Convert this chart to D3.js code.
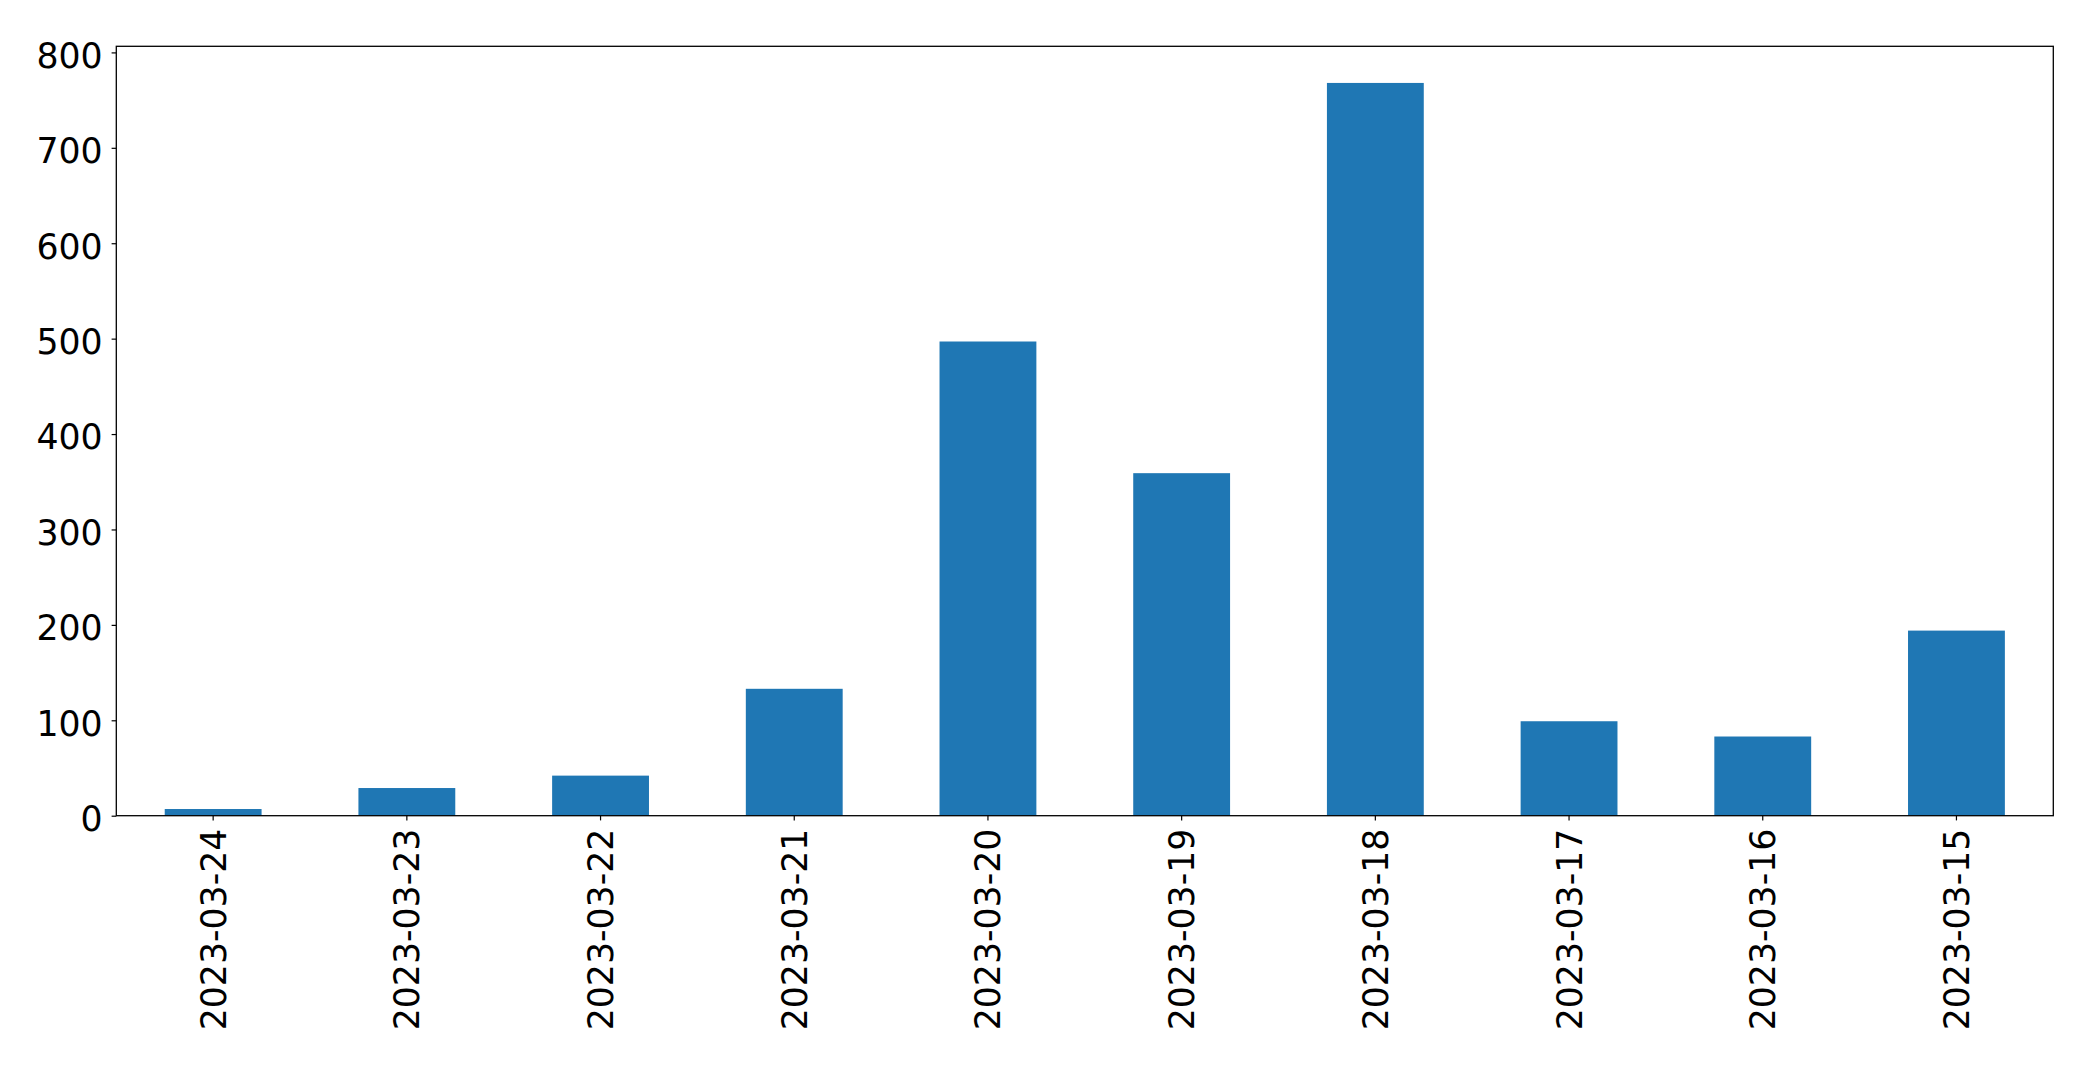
<!DOCTYPE html>
<html>
<head>
<meta charset="utf-8">
<script src="https://cdn.jsdelivr.net/npm/d3@7"></script>
<style>
  html, body { margin: 0; padding: 0; background: #fff; }
  svg { display: block; }
  text { font-family: "DejaVu Sans", sans-serif; fill: #000; }
</style>
</head>
<body>
<svg id="chart" width="2093" height="1068"></svg>
<script>
const categories = ["2023-03-24","2023-03-23","2023-03-22","2023-03-21","2023-03-20","2023-03-19","2023-03-18","2023-03-17","2023-03-16","2023-03-15"];
const values = [7, 29, 42, 133, 497, 359, 768, 99, 83, 194];
const yTicks = [0, 100, 200, 300, 400, 500, 600, 700, 800];

const W = 2093, H = 1068;
const m = { left: 116.3, right: W - 2053.3, top: 46.3, bottom: H - 815.7 };
const svg = d3.select("#chart");
const g = svg.append("g");

const x = d3.scaleBand().domain(categories)
  .range([m.left, W - m.right]).paddingInner(0.5).paddingOuter(0.25);
const y = d3.scaleLinear().domain([0, d3.max(values) * 1.05]).range([H - m.bottom, m.top]);

g.selectAll("rect.bar").data(values).join("rect")
  .attr("class", "bar")
  .attr("x", (d, i) => x(categories[i]))
  .attr("width", x.bandwidth())
  .attr("y", d => y(d))
  .attr("height", d => y(0) - y(d))
  .attr("fill", "#1f77b4");

const fs = 34.7;
// y axis
const yAxis = d3.axisLeft(y).tickValues(yTicks).tickSize(4.7).tickPadding(9).tickFormat(d3.format("d"));
const ya = g.append("g").attr("transform", `translate(${m.left},0)`).call(yAxis);
ya.select(".domain").remove();
ya.selectAll(".tick line").attr("stroke", "#000").attr("stroke-width", 1.2);
ya.selectAll(".tick text").attr("font-size", fs).attr("dy", "0.43em")
  .attr("font-family", "DejaVu Sans").attr("fill", "#000");

// x axis
const xAxis = d3.axisBottom(x).tickSize(4.7).tickPadding(0);
const xa = g.append("g").attr("transform", `translate(0,${H - m.bottom})`).call(xAxis);
xa.select(".domain").remove();
xa.selectAll(".tick line").attr("stroke", "#000").attr("stroke-width", 1.2);
xa.selectAll(".tick text")
  .attr("font-size", fs).attr("font-family", "DejaVu Sans").attr("fill", "#000")
  .attr("text-anchor", "end")
  .attr("transform", "translate(0,13) rotate(-90)")
  .attr("x", 0).attr("y", 0).attr("dy", "0.36em");

// frame
g.append("rect")
  .attr("x", m.left).attr("y", m.top)
  .attr("width", W - m.right - m.left).attr("height", H - m.bottom - m.top)
  .attr("fill", "none").attr("stroke", "#000").attr("stroke-width", 1.3);
</script>
</body>
</html>
